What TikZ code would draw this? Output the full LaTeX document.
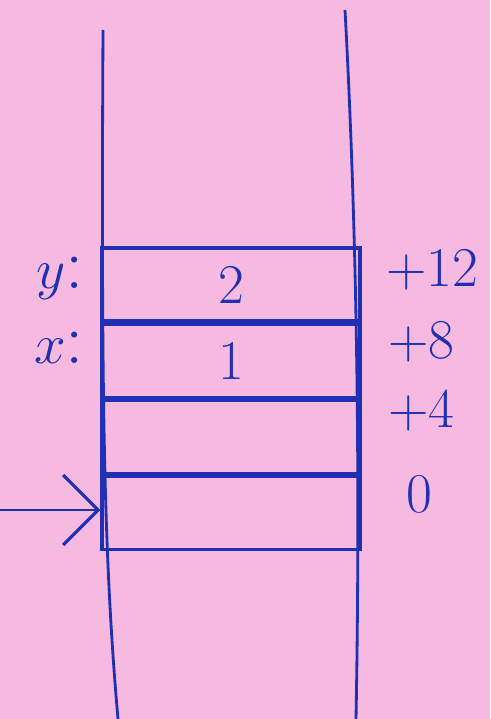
\documentclass[tikz,border=0pt]{standalone}
\usepackage{tikz}
\usetikzlibrary{arrows.meta,positioning}
\definecolor{paper}{RGB}{246,186,224}
\definecolor{pen}{RGB}{32,48,178}

\begin{document}
\begin{tikzpicture}[
		x=0.02cm,y=-0.02cm,
		font=\fontsize{32}{34}\selectfont,
		cell/.style={draw=pen,line width=1.8pt,minimum width=5.16cm,minimum height=1.46cm,
			inner sep=0pt,text=pen},
		wall/.style={draw=pen,line width=1.6pt},
		ptr/.style={draw=pen,line width=1.4pt,-{Straight Barb[length=7mm,width=14mm,line width=1.8pt]}},
		lbl/.style={text=pen,anchor=east},
		off/.style={text=pen,anchor=west}]
		
		% background and margins
		\fill[paper] (0,0) rectangle (490,719);
		\useasboundingbox (0,0) rectangle (490,719);
		
		% ============ stack walls ============
		\draw[wall] (103,30) .. controls (101,400) and (104,560) .. (118,719);
		\draw[wall] (345,10) .. controls (358,250) and (360,500) .. (356,719);
		
		% ============ frame cells ============
		\node[cell] (celly) at (231,284.5) {2};
		\node[cell,below=0pt of celly] (cellx) {1};
		\node[cell,below=0pt of cellx] (cellfour) {};
		\node[cell,below=0pt of cellfour] (cellzero) {};
		
		% variable names on the left
		\node[lbl,scale=1.3] (namey) at (92,278) {$y$:};
		\node[lbl,scale=1.3] (namex) at (92,348) {$x$:};
		
		% offsets on the right
		\node[off] (offtwelve) at (380,270) {+12};
		\node[off] (offeight) at (382,342) {+8};
		\node[off] (offfour) at (382,410) {+4};
		\node[off] (offzero) at (400,494) {0};
		
		% pointer into the lowest cell
		\coordinate (ptrstart) at (0,510);
		\draw[ptr] (ptrstart) -- (cellzero.west |- ptrstart);
		
	\end{tikzpicture}
\end{document}
